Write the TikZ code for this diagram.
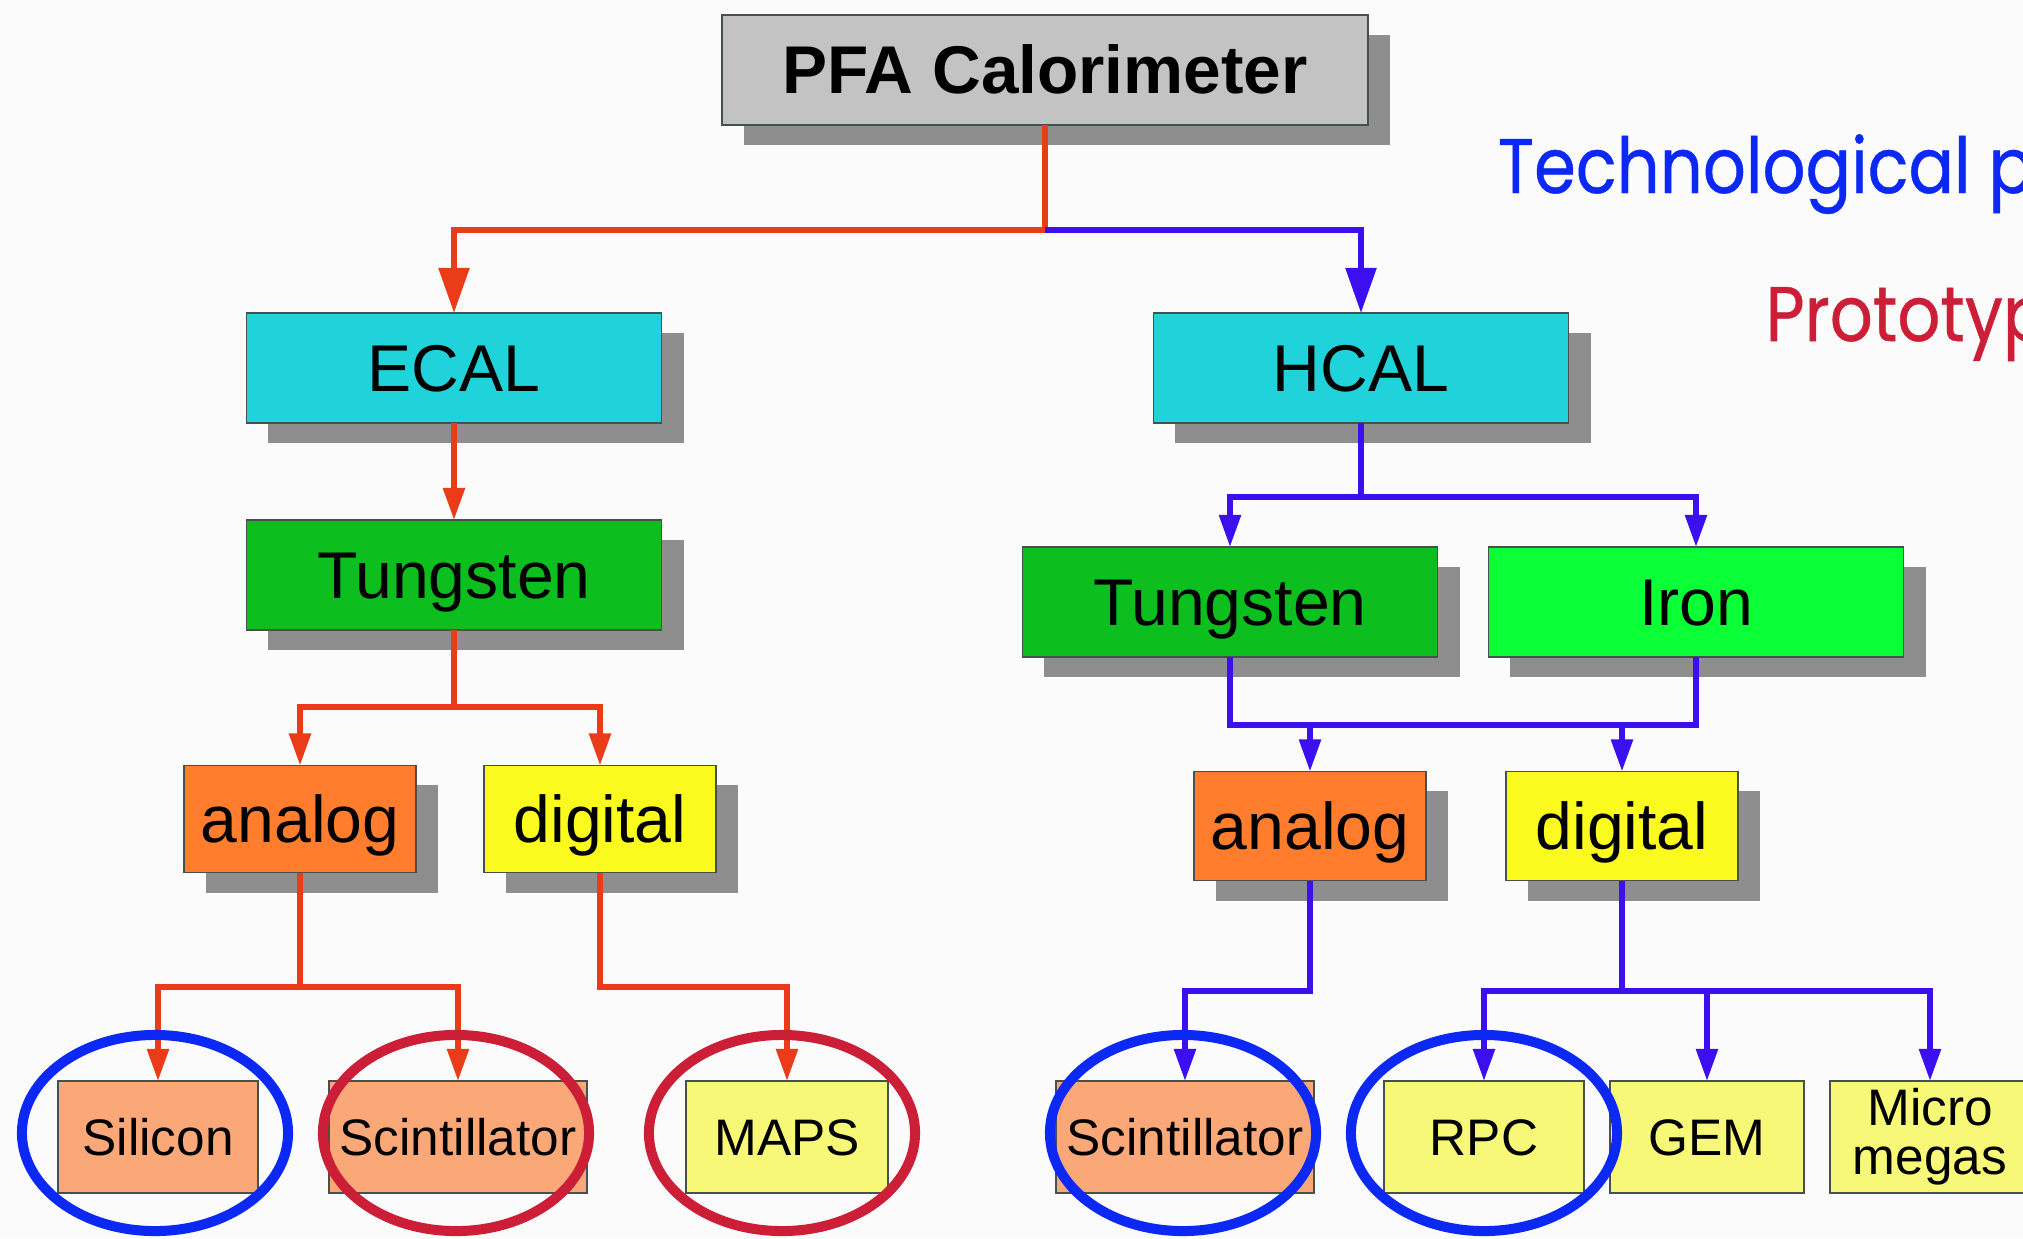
\documentclass[tikz,border=0pt]{standalone}
\usepackage{fontspec}
\usepackage{graphicx}
\setmainfont{Liberation Sans}
\newfontfamily\headfont[FakeBold=0.6]{Poppins}
\usetikzlibrary{arrows.meta,shadows,shapes.geometric}

\definecolor{pagebg}{RGB}{251,251,251}
\definecolor{boxline}{RGB}{70,80,80}
\definecolor{shadowgray}{RGB}{142,142,142}
\definecolor{rootgray}{RGB}{195,195,195}
\definecolor{calcyan}{RGB}{32,210,218}
\definecolor{tungreen}{RGB}{12,190,30}
\definecolor{irongreen}{RGB}{10,255,55}
\definecolor{anaorange}{RGB}{255,125,45}
\definecolor{digyellow}{RGB}{250,250,30}
\definecolor{leaforange}{RGB}{250,168,120}
\definecolor{leafyellow}{RGB}{248,248,120}
\definecolor{ecalred}{RGB}{235,60,25}
\definecolor{hcalblue}{RGB}{60,15,240}
\definecolor{ringblue}{RGB}{12,40,245}
\definecolor{ringred}{RGB}{205,30,55}

\begin{document}
\begin{tikzpicture}[x=0.01cm,y=-0.01cm,
  box/.style={draw=boxline, line width=0.015cm, inner sep=0pt, outer sep=0pt},
  midcaps/.style={text height=13.5pt, text depth=0pt},
  leafcaps/.style={text height=10.5pt, text depth=0pt},
  shadowed/.style={general shadow={fill=shadowgray, shadow xshift=0.22cm, shadow yshift=-0.20cm}},
  midfont/.style={font=\fontsize{18.8}{22}\selectfont},
  rootbox/.style={box, shadowed, midcaps, minimum width=6.46cm, minimum height=1.10cm,
    fill=rootgray, font=\fontsize{19.2}{22}\selectfont\bfseries},
  calbox/.style={box, shadowed, midcaps, midfont, minimum width=4.15cm, minimum height=1.10cm},
  readbox/.style={box, shadowed, midcaps, midfont, minimum width=2.32cm, minimum height=1.07cm},
  leafbox/.style={box, font=\fontsize{14.6}{14}\selectfont, minimum height=1.12cm},
  ring/.style={ellipse, draw, line width=0.10cm, minimum width=2.66cm, minimum height=1.96cm,
    inner sep=0pt, fill=none},
  link/.style={line width=0.055cm},
  bigtip/.style={-{Triangle[width=0.30cm,length=0.45cm]}},
  smalltip/.style={-{Triangle[width=0.21cm,length=0.32cm]}},
  headline/.style={anchor=base west, inner sep=0pt, font=\headfont\fontsize{22}{26}\selectfont},
]
\useasboundingbox (0,0) rectangle (2023,1238);
\clip (0,0) rectangle (2023,1238);
\fill[pagebg] (0,0) rectangle (2023,1238);

% headings on the right
\node[headline, text=ringblue] (headtech) at (1497,193) {\scalebox{0.87}[1]{Technological p}};
\node[headline, text=ringred] (headproto) at (1765,341) {\scalebox{0.87}[1]{Prototyp}};

% tree boxes
\node[rootbox] (pfa) at (1045,70) {PFA Calorimeter};
\node[calbox, fill=calcyan] (ecal) at (454,368) {ECAL};
\node[calbox, fill=calcyan] (hcal) at (1361,368) {HCAL};
\node[calbox, fill=tungreen] (tungL) at (454,575) {Tungsten};
\node[calbox, fill=tungreen] (tungR) at (1230,602) {Tungsten};
\node[calbox, fill=irongreen] (iron) at (1696,602) {Iron};
\node[readbox, fill=anaorange] (anaL) at (300,819) {analog};
\node[readbox, fill=digyellow] (digL) at (600,819) {digital};
\node[readbox, fill=anaorange, minimum height=1.09cm] (anaR) at (1310,826) {analog};
\node[readbox, fill=digyellow, minimum height=1.09cm] (digR) at (1622,826) {digital};

% technologies
\node[leafbox, leafcaps, fill=leaforange, minimum width=2.00cm] (silicon) at (158,1137) {Silicon};
\node[leafbox, leafcaps, fill=leaforange, minimum width=2.58cm] (scintL) at (458,1137) {Scintillator};
\node[leafbox, leafcaps, fill=leafyellow, minimum width=2.02cm] (maps) at (787,1137) {MAPS};
\node[leafbox, leafcaps, fill=leaforange, minimum width=2.58cm] (scintR) at (1185,1137) {Scintillator};
\node[leafbox, leafcaps, fill=leafyellow, minimum width=2.00cm] (rpc) at (1484,1137) {RPC};
\node[leafbox, leafcaps, fill=leafyellow, minimum width=1.94cm] (gem) at (1707,1137) {GEM};
\node[leafbox, fill=leafyellow, minimum width=2.00cm, align=center] (micro) at (1930,1137) {Micro\\megas};

% branch points
\coordinate (topsplit) at (1045,230);
\coordinate (hsplit) at (1361,497);
\coordinate (tsplitL) at (454,707);
\coordinate (mrgR) at (1310,725);
\coordinate (mrgR2) at (1622,725);
\coordinate (asplitL) at (300,987);
\coordinate (dturnL) at (600,987);
\coordinate (aturnR) at (1310,991);
\coordinate (dsplitR) at (1622,991);

% ECAL branch (red)
\begin{scope}[link, draw=ecalred, color=ecalred]
  \draw[bigtip] (pfa.south) -- (topsplit) -| (ecal.north);
  \draw[smalltip] (ecal.south) -- (tungL.north);
  \draw (tungL.south) -- (tsplitL);
  \draw[smalltip] (tsplitL) -| (anaL.north);
  \draw[smalltip] (tsplitL) -| (digL.north);
  \draw (anaL.south) -- (asplitL);
  \draw[smalltip] (asplitL) -| (silicon.north);
  \draw[smalltip] (asplitL) -| (scintL.north);
  \draw[smalltip] (digL.south) -- (dturnL) -| (maps.north);
\end{scope}

% HCAL branch (blue)
\begin{scope}[link, draw=hcalblue, color=hcalblue]
  \draw[bigtip] (topsplit) -| (hcal.north);
  \draw (hcal.south) -- (hsplit);
  \draw[smalltip] (hsplit) -| (tungR.north);
  \draw[smalltip] (hsplit) -| (iron.north);
  \draw (tungR.south) |- (mrgR) -| (iron.south);
  \draw[smalltip] (mrgR) -- (anaR.north);
  \draw[smalltip] (mrgR2) -- (digR.north);
  \draw[smalltip] (anaR.south) -- (aturnR) -| (scintR.north);
  \draw (digR.south) -- (dsplitR);
  \draw[smalltip] (dsplitR) -| (rpc.north);
  \draw[smalltip] (dsplitR) -| (gem.north);
  \draw[smalltip] (dsplitR) -| (micro.north);
\end{scope}

% highlighted technologies
\node[ring, draw=ringblue] (ringSilicon) at (155,1133) {};
\node[ring, draw=ringred] (ringScintL) at (456,1133) {};
\node[ring, draw=ringred] (ringMaps) at (782,1133) {};
\node[ring, draw=ringblue] (ringScintR) at (1183,1133) {};
\node[ring, draw=ringblue] (ringRpc) at (1484,1133) {};
\end{tikzpicture}
\end{document}
